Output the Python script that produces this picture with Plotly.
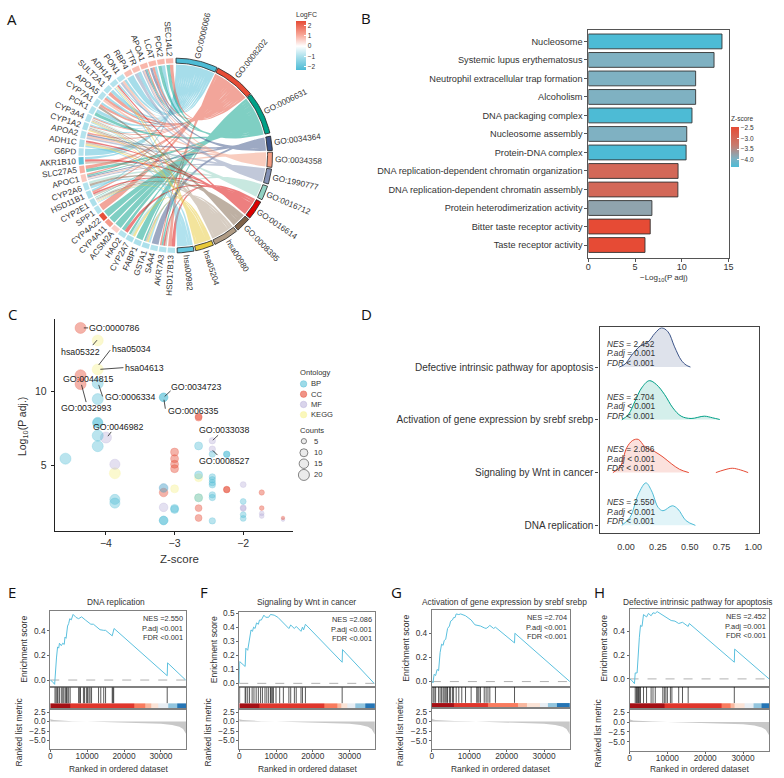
import numpy as np
import plotly.graph_objects as go

W, H = 784, 778
FONT = "Liberation Sans"
INK = "#333333"

# ---------- Panel A data ----------
genes = ["SEC14L2","PCK2","LCAT","APOA1","TTR","RBP4","PON1","ADH1A","SULT2A1","APOA5","CYP7A1","PCK1",
         "CYP3A4","CYP1A2","APOA2","ADH1C","G6PD","AKR1B10","SLC27A5","APOC1","CYP2A6","HSD11B1","CYP2E1",
         "SPP1","CYP4A22","CYP4A11","ACSM2A","HAO2","CYP2A7","FABP1","GSTA1","SAA4","AKR7A3","HSD17B13"]
gene_logfc = [0.9,0.9,0.9,0.9,0.8,0.8,-0.9,-0.9,-0.9,-0.9,-0.9,-0.9,-0.9,-1.0,-0.9,-1.0,-0.9,-2.0,1.0,0.7,
              -0.9,-1.0,-1.0,-0.9,2.4,1.3,0.6,-0.9,-1.0,-1.0,-1.0,-0.9,-0.9,-0.9]
terms = ["GO:0006066","GO:0008202","GO:0006631","GO:0034364","GO:0034358","GO:1990777","GO:0016712",
         "GO:0016614","GO:0008395","hsa00980","hsa05204","hsa00982"]
term_colors = ["#4DBBD5","#E64B35","#00A087","#3C5488","#F39B7F","#8491B4","#91D1C2","#DC0000","#7E6148",
               "#B09C85","#E8C93A","#63C6DE"]
term_genes = [
 ["PCK2","LCAT","TTR","RBP4","PON1","ADH1A","SULT2A1","APOA5","CYP7A1","PCK1","CYP3A4","CYP1A2","G6PD","AKR1B10","HSD11B1"],
 ["SEC14L2","LCAT","APOA1","SULT2A1","APOA5","CYP7A1","CYP3A4","CYP1A2","APOA2","SLC27A5","APOC1","HSD11B1","SPP1","AKR7A3","HSD17B13"],
 ["SEC14L2","PCK2","APOA1","PCK1","SLC27A5","APOC1","CYP2E1","CYP4A22","CYP4A11","ACSM2A","HAO2","CYP2A7","FABP1","GSTA1","AKR7A3"],
 ["LCAT","APOA1","APOA2","APOC1","SAA4"],
 ["PON1","APOA1","APOA5","APOA2","APOC1"],
 ["TTR","PON1","APOA1","APOA2","APOC1"],
 ["CYP3A4","CYP1A2","CYP2A6","CYP2E1","CYP2A7"],
 ["ADH1A","ADH1C","AKR1B10","HSD11B1","HAO2","AKR7A3","HSD17B13"],
 ["CYP7A1","CYP3A4","CYP1A2","CYP2A6","CYP2E1"],
 ["ADH1A","ADH1C","CYP3A4","CYP1A2","AKR1B10","HSD11B1","CYP2E1","GSTA1","AKR7A3"],
 ["ADH1A","ADH1C","CYP1A2","CYP3A4","CYP2E1","GSTA1","CYP2A7"],
 ["ADH1A","ADH1C","CYP3A4","CYP2E1","GSTA1","CYP2A6"],
]

# ---------- Panel B data ----------
b_terms = ["Nucleosome","Systemic lupus erythematosus","Neutrophil extracellular trap formation","Alcoholism",
           "DNA packaging complex","Nucleosome assembly","Protein-DNA complex",
           "DNA replication-dependent chromatin organization","DNA replication-dependent chromatin assembly",
           "Protein heterodimerization activity","Bitter taste receptor activity","Taste receptor activity"]
b_values = [14.3,13.45,11.48,11.48,11.09,10.53,10.46,9.6,9.58,6.8,6.62,6.06]
b_z = [-4.34,-3.95,-3.95,-3.95,-4.34,-3.95,-4.34,-3.0,-3.0,-3.8,-2.48,-2.48]

# ---------- Panel C data ----------
bp_x = [-4.12,-4.12,-3.16,-3.16,-4.12,-4.12,-4.12,-4.12,-4.59,-3.87,-3.87,-2.65,-2.45,-2.24,-2.24,-2.65,-2.45,-2.45,-2.45,-2.45,
        -3.16,-2.45,-2.45,-2.65,-2,-3,-3,-3.16,-3.16,-2.45,-2,-2]
bp_y = [10.55,9.48,9.6,9.6,7.9,7.85,7.0,6.28,5.43,2.66,2.41,6.3,5.74,5.74,5.72,4.32,4.19,4.0,3.8,3.65,
        3.44,2.97,2.79,2.77,2.52,2.05,1.98,1.24,1.22,1.2,1.62,1.37]
bp_n = [20,20,12,12,17,17,20,20,20,17,17,10,7,7,7,10,7,7,7,7,12,7,7,10,6,10,10,12,12,7,6,6]
cc_x = [-4.37,-4.37,-4.37,-3,-3,-3,-3,-2.65,-2.65,-2.24,-2.24,-1.73,-3.16,-2.65,-2.65,-1.73,-1.42]
cc_y = [14.32,11.1,10.5,5.88,5.43,5.05,4.75,8.3,8.22,3.34,3.32,3.13,3.13,2.07,1.4,2.07,1.4]
cc_n = [20,20,20,10,10,10,10,8,8,7,7,5,12,8,8,4,2]
mf_x = [-4,-3.87,-2.45,-2.45,-2,-3.16,-3.16,-2,-2,-1.73,-1.73,-1.42]
mf_y = [6.87,5.05,6.65,6.08,3.67,3.44,2.12,2.1,2.04,1.71,1.53,1.28]
mf_n = [20,17,7,7,6,12,12,6,6,4,4,2]
kegg_x = [-4.12,-4.12,-3.87,-2.65,-3,-2.65]
kegg_y = [13.47,11.5,4.44,4.14,3.38,2.77]
kegg_n = [20,20,20,10,10,10]
count_levels = [5,10,15,20]
c_groups = ["BP","CC","MF","KEGG"]
c_colors = ["77,187,213","230,75,53","180,170,215","247,243,150"]
c_alpha = [0.55,0.6,0.5,0.65]
c_labels = ["GO:0000786","hsa05322","hsa05034","hsa04613","GO:0044815","GO:0006334","GO:0032993",
            "GO:0034723","GO:0006335","GO:0046982","GO:0033038","GO:0008527"]

# ---------- Panel D data ----------
d_names = ["DNA replication","Signaling by Wnt in cancer","Activation of gene expression by srebf srebp",
           "Defective intrinsic pathway for apoptosis"]
d_colors = ["77,187,213","230,75,53","0,160,135","60,84,136"]
d_stats = [("2.550","<"),("2.086","<"),("2.704","<"),("2.452","=")]
d_x = [[-.034,.031,.096,.156,.2,.252,.29,.363,.407,.472,.545],
       [-.104,-.047,.005,.052,.096,.148,.226,.29,.355,.42,.493],
       [-.034,.018,.07,.122,.182,.239,.303,.368,.433,.511,.615,.68,.737],
       [-.054,-.008,.044,.109,.174,.225,.278,.33,.381,.433,.472,.506]]
d_h = [[0,.151,.591,.805,.654,.34,.277,.371,.31,.088,0],
       [0,.107,.472,.61,.629,.49,.396,.296,.17,.063,0],
       [0,.1,.352,.604,.742,.667,.478,.226,.069,.025,.069,.038,.006],
       [0,.057,.226,.396,.478,.635,.742,.667,.383,.132,.038,0]]
wnt2_x = [.706,.77,.835,.9,.96]
wnt2_h = [0,.05,.082,.05,0]

# ---------- Panels E-H data ----------
gsea_titles = ["DNA replication","Signaling by Wnt in cancer","Activation of gene expression by srebf srebp",
               "Defective intrinsic pathway for apoptosis"]
gsea_title_x = [114,306.7,506.7,702]
gsea_stats = [("2.550","<"),("2.086","<"),("2.704","<"),("2.452","=")]
es_rank = [
 [0,500,1200,1400,1700,2000,2300,2500,3000,3400,3800,4000,4300,4700,5000,5300,5700,6200,7000,7700,8500,9500,11000,11700,13000,13500,14500,15000,16800,17300,31700,31800,36700],
 [0,100,1600,1800,2300,2800,3200,3600,3900,4300,4700,5200,5500,6000,6700,7200,8000,8500,9500,10500,12000,13500,14000,15000,15500,16800,17200,17500,18000,28000,28100,36700],
 [0,300,600,1000,1400,1800,2200,2600,3000,3300,3700,4200,4700,5000,5500,5800,6200,6500,7200,7700,9000,10500,11500,13000,14000,14500,15000,15500,16500,17000,22100,22200,36900],
 [0,500,1300,1500,2000,2200,2600,2900,3300,3700,4500,5000,5700,6200,6800,7300,8500,9500,11000,12000,13000,14000,15500,15800,27700,27800,36900]]
es_score = [
 [0,-.01,-.035,.1,.18,.27,.26,.30,.28,.30,.29,.35,.34,.44,.46,.50,.49,.535,.51,.50,.515,.49,.455,.455,.42,.41,.405,.405,.36,.42,.035,.14,0],
 [0,.155,.12,.25,.235,.33,.38,.37,.40,.39,.43,.42,.45,.45,.485,.47,.47,.49,.485,.47,.43,.39,.415,.39,.405,.37,.40,.38,.42,.15,.24,0],
 [0,-.01,.06,.05,.10,.09,.24,.31,.30,.34,.35,.44,.46,.50,.51,.53,.53,.56,.555,.56,.545,.51,.47,.46,.445,.44,.45,.465,.44,.45,.32,.40,0],
 [0,-.01,-.04,.05,.05,.19,.35,.45,.44,.54,.52,.55,.53,.555,.55,.565,.54,.52,.49,.485,.465,.475,.44,.465,.14,.25,0]]
hit_ranks = [
 [1300,1600,1900,2100,2500,3000,3400,3700,4100,4400,4600,5000,5400,7700,8000,8200,9000,9300,9800,10100,10500,10800,11200,13100,13700,14500,15000,16800,17000,17200,31700],
 [100,1600,1800,2300,2800,3500,4000,4600,5200,5800,6300,7000,7500,8000,8500,8700,9000,9300,10000,11000,12000,13500,14000,15000,15500,16800,17200,18000,28000],
 [300,600,1000,1800,2200,2600,3000,3300,3700,4000,4200,4700,5000,5500,5800,6500,7200,8000,9000,10500,12000,12300,12600,13000,14000,14500,15000,15500,17000,22100],
 [1500,1800,2000,2200,2400,2600,2900,3700,4500,5700,6200,6800,8800,9200,9600,10000,10800,11200,13000,14000,15500,27700]]
strip_edges = [
 [0,5500,22800,25700,27300,29200,32100,34300,36900],
 [0,5500,23000,26700,27700,29300,31700,34300,36900],
 [0,6000,15000,22900,25300,29000,31000,33500,36900],
 [0,9200,24200,26800,27800,30500,32700,35000,36900]]
strip_values = [1,.85,.7,.6,.5,.4,.25,.05]
metric_rank = [0,300,1000,3000,6000,10000,15000,20000,25000,30000,33000,35000,36000,36500,36900]
metric_value = [.75,.55,.38,.2,.1,.02,-.1,-.2,-.35,-.6,-.9,-1.4,-2.0,-2.7,-3.4]
strip_scale = [[0,'#0B5AA5'],[.1,'#3F8FC4'],[.25,'#92C5DE'],[.4,'#E8EEF4'],[.5,'#FBE3D6'],[.6,'#F9B79E'],
               [.7,'#F97B5E'],[.85,'#E0362C'],[1,'#A50F15']]

# ---------- helpers ----------
fig = go.Figure()
axis_n = [0]
def add_axes(x0, x1, y0, y1, xopts, yopts):
    axis_n[0] += 1
    n = axis_n[0]
    s = "" if n == 1 else str(n)
    fig.update_layout(**{
        f"xaxis{s}": dict(domain=[x0/W, x1/W], anchor=f"y{s}", **xopts),
        f"yaxis{s}": dict(domain=[1-y1/H, 1-y0/H], anchor=f"x{s}", **yopts)})
    return f"x{s}", f"y{s}"

ann = []
def text(x, y, t, size=8, anchor="center", angle=0, color=INK, family=FONT):
    ann.append(dict(x=x/W, y=1-y/H, xref="paper", yref="paper", text=t, showarrow=False, xanchor=anchor,
                    yanchor="middle", textangle=angle, font=dict(size=size, color=color, family=family),
                    borderpad=0, borderwidth=0))

def tw(s, size):
    w = dict(G=.778,O=.778,M=.833,I=.278,T=.611,F=.611,L=.556)
    w.update({c:.722 for c in "CDHNRU"})
    total = 0
    for c in s:
        if c in w: total += w[c]
        elif c.isupper(): total += .667
        elif c == ":": total += .278
        elif c in "il": total += .222
        elif c in "s": total += .5
        else: total += .556
    return total*size

def off(**k):
    d = dict(visible=False, fixedrange=True)
    d.update(k)
    return d

def lerp_scale(v, vmin, vmax, stops):
    t = (v-vmin)/(vmax-vmin)
    ps = [s[0] for s in stops]
    cs = [tuple(int(s[1][i:i+2],16) for i in (1,3,5)) for s in stops]
    return "rgb(%d,%d,%d)" % tuple(np.interp(t, ps, [c[k] for c in cs]) for k in range(3))

# ---------- Panel A ----------
CX, CY, BOX = 174.3, 152.5, 130
ax, ay = add_axes(CX-BOX, CX+BOX, CY-BOX, CY+BOX, off(range=[-BOX,BOX]), off(range=[-BOX,BOX]))
R_IN, R0, R1 = 91.5, 93.0, 98.0
def pol(theta, r):
    t = np.radians(theta)
    return r*np.sin(t), r*np.cos(t)
def arc(a, b, r, n=12):
    th = np.linspace(a, b, n)
    return pol(th, r)
def bez(ta, tb, r, n=30):
    xa, ya = pol(ta, r); xb, yb = pol(tb, r)
    u = np.linspace(0, 1, n)
    return (1-u)**2*xa + u**2*xb, (1-u)**2*ya + u**2*yb

term_spans = [(0.3,25.4),(26,50.6),(51.2,76.6),(78.5,87),(88,97),(98,107),(108.4,117),(118.5,130),(131,140),
              (141,156),(157,168),(169,179)]
GENE_STEP = (356.4-182.5)/(len(genes)-1)
GENE_W = 4.4
gene_theta = [356.4 - i*GENE_STEP for i in range(len(genes))]
links_per_gene = {g: [ti for ti, lst in enumerate(term_genes) if g in lst] for g in genes}

for ti, lst in enumerate(term_genes):
    a, b = term_spans[ti]
    ordered = sorted(lst, key=genes.index, reverse=True)
    step = (b-a)/len(ordered)
    xs, ys = [], []
    for k, g in enumerate(ordered):
        gt = gene_theta[genes.index(g)]
        L = links_per_gene[g]
        gs = GENE_W/len(L)
        j = L.index(ti)
        g1 = gt + GENE_W/2 - j*gs
        g2 = g1 - gs
        t1, t2 = a+k*step, a+(k+1)*step
        x1, y1 = arc(t1, t2, R_IN, 4)
        x2, y2 = bez(t2, g2, R_IN)
        x3, y3 = arc(g2, g1, R_IN, 3)
        x4, y4 = bez(g1, t1, R_IN)
        xs += list(np.r_[x1, x2, x3, x4]) + [None]
        ys += list(np.r_[y1, y2, y3, y4]) + [None]
    rgb = tuple(int(term_colors[ti][i:i+2],16) for i in (1,3,5))
    fig.add_trace(go.Scatter(x=xs, y=ys, xaxis=ax, yaxis=ay, mode="lines", fill="toself",
                             fillcolor="rgba(%d,%d,%d,0.5)" % rgb, line=dict(width=0)))

for ti, t in enumerate(terms):
    a, b = term_spans[ti]
    x1, y1 = arc(a, b, R1, 20); x2, y2 = arc(b, a, R0, 20)
    fig.add_trace(go.Scatter(x=np.r_[x1,x2,x1[0]], y=np.r_[y1,y2,y1[0]], xaxis=ax, yaxis=ay, mode="lines", fill="toself",
                             fillcolor=term_colors[ti], line=dict(color="#222222", width=0.8)))
    mid = (a+b)/2
    r = 100.5 + tw(t, 8.2)/2
    px, py = pol(mid, r)
    text(CX+px, CY-py, t, 8.2, angle=mid-90)

LOGFC_MIN, LOGFC_MAX = -2.33, 2.46
z0 = -LOGFC_MIN/(LOGFC_MAX-LOGFC_MIN)
logfc_scale = [[0,"#4DBBD5"],[z0*0.55,"#A8DFEB"],[z0,"#FFFFFF"],[z0+(1-z0)*0.45,"#F8A798"],[1,"#E64B35"]]
for g, th, v in zip(genes, gene_theta, gene_logfc):
    x1, y1 = arc(th-GENE_W/2, th+GENE_W/2, R1, 5); x2, y2 = arc(th+GENE_W/2, th-GENE_W/2, R0, 5)
    c = lerp_scale(v, LOGFC_MIN, LOGFC_MAX, logfc_scale)
    fig.add_trace(go.Scatter(x=np.r_[x1,x2], y=np.r_[y1,y2], xaxis=ax, yaxis=ay, mode="lines", fill="toself",
                             fillcolor=c, line=dict(color=c, width=0.1)))
    r = 100.5 + tw(g, 8.2)/2
    px, py = pol(th, r)
    text(CX+px, CY-py, g, 8.2, angle=th-270)
gx, gy = pol(np.array(gene_theta), R0)
fig.add_trace(go.Scatter(x=gx, y=gy, xaxis=ax, yaxis=ay, mode="markers",
    marker=dict(size=1, opacity=0, color=gene_logfc, colorscale=logfc_scale, cmin=LOGFC_MIN, cmax=LOGFC_MAX,
        colorbar=dict(x=296/W, xanchor="left", y=1-17/H, yanchor="top", len=49, lenmode="pixels", thickness=10,
                      xpad=0, ypad=0, outlinewidth=0, ticks="inside", tickcolor="white", ticklen=2,
                      tickvals=[-2,-1,0,1,2], tickfont=dict(size=6.5, color=INK, family=FONT)))))
text(296, 10.7, "LogFC", 7, anchor="left")

# ---------- Panel B ----------
frame = dict(showline=True, mirror=True, linecolor="#555555", linewidth=1, showgrid=False, zeroline=False)
bx, by = add_axes(591.4, 733, 26, 256,
    dict(range=[0,15], tickvals=[0,5,10,15], ticks="outside", ticklen=3, tickcolor="#555", ticklabelstandoff=-3,
         tickfont=dict(size=9, color=INK, family=FONT), **frame),
    dict(range=[11.72,-0.626], ticks="outside", ticklen=3, tickcolor="#555", tickfont=dict(size=9.2, color=INK, family=FONT), **frame))
z_scale = [[0,"#4DBBD5"],[.21,"#7FB1C2"],[.55,"#C87A6D"],[1,"#E64B35"]]
fig.add_trace(go.Bar(x=b_values, y=b_terms, orientation="h", xaxis=bx, yaxis=by, width=0.8,
    marker=dict(color=b_z, colorscale=z_scale, cmin=-4.34, cmax=-2.48, line=dict(color="#333333", width=0.9),
        colorbar=dict(x=736/W, xanchor="left", y=1-124/H, yanchor="top", len=40, lenmode="pixels", thickness=8,
                      xpad=0, ypad=0, outlinewidth=0, ticks="inside", tickcolor="white", ticklen=2,
                      tickvals=[-2.5,-3,-3.5,-4], ticktext=["−2.5","−3.0","−3.5","−4.0"],
                      tickfont=dict(size=6.5, color=INK, family=FONT)))))
text(668, 276, "−Log<sub>10</sub>(P adj)", 8)
text(736, 115.7, "Z-score", 6.5, anchor="left")

# ---------- Panel C ----------
cx, cy = add_axes(52.3, 293, 317, 530,
    dict(range=[-4.746,-1.274], tickvals=[-4,-3,-2], showline=True, linecolor="#222", linewidth=1, ticks="outside", ticklen=3,
         showgrid=False, zeroline=False, tickcolor="#222", tickfont=dict(size=10.5, color=INK, family=FONT)),
    dict(range=[0.54,14.93], tickvals=[5,10], showline=True, linecolor="#222", linewidth=1, ticks="outside", ticklen=3,
         showgrid=False, zeroline=False, tickcolor="#222", ticklabelstandoff=2, tickfont=dict(size=10.5, color=INK, family=FONT)))
def size_px(n):
    return np.interp(n, [2,5,10,15,20], [3.5,5.3,8,9.5,11])
for gx_, gy_, gn, rgb, al in zip([kegg_x,mf_x,cc_x,bp_x],[kegg_y,mf_y,cc_y,bp_y],[kegg_n,mf_n,cc_n,bp_n],
                                 [c_colors[3],c_colors[2],c_colors[1],c_colors[0]],[c_alpha[3],c_alpha[2],c_alpha[1],c_alpha[0]]):
    fig.add_trace(go.Scatter(x=gx_, y=gy_, xaxis=cx, yaxis=cy, mode="markers",
        marker=dict(size=size_px(np.array(gn)), color=f"rgba({rgb},{al})", line=dict(color=f"rgba({rgb},0.8)", width=0.5))))
text(178, 558.5, "Z-score", 11.5)
text(20, 425, "Log<sub>10</sub>(P adj.)", 10.5, angle=-90)

# ---------- Panel D ----------
dx, dy = add_axes(602.7, 764, 325.3, 532.7,
    dict(range=[-0.209,1.047], tickvals=[0,.25,.5,.75,1], ticktext=["0.00","0.25","0.50","0.75","1.00"], ticks="",
         ticklabelstandoff=5, tickfont=dict(size=9, color=INK, family=FONT), showline=True, mirror=True, linecolor="#444", linewidth=1.3, showgrid=False, zeroline=False),
    dict(range=[0.85,4.755], tickvals=[1,2,3,4], ticktext=d_names, ticks="outside", ticklen=3, tickcolor="#444",
         tickfont=dict(size=10, color=INK, family=FONT), showline=True, mirror=True, linecolor="#444", linewidth=1.3, showgrid=False, zeroline=False))
for i in range(4):
    ys_ = [i+1+v for v in d_h[i]]
    fig.add_trace(go.Scatter(x=d_x[i], y=ys_, xaxis=dx, yaxis=dy, mode="lines", fill="toself", fillcolor=f"rgba({d_colors[i]},0.17)",
                             line=dict(width=0, shape="spline"), hoverinfo="skip"))
    fig.add_trace(go.Scatter(x=d_x[i], y=ys_, xaxis=dx, yaxis=dy, mode="lines", line=dict(color=f"rgb({d_colors[i]})", width=1, shape="spline")))
fig.add_trace(go.Scatter(x=wnt2_x, y=[2+v for v in wnt2_h], xaxis=dx, yaxis=dy, mode="lines", line=dict(color=f"rgb({d_colors[1]})", width=1, shape="spline")))
for i, base in enumerate([524.7,471.7,418.7,365.3]):
    nes, op = d_stats[i]
    text(610, base-23.4, f"<i>NES</i> = {nes}", 8.3, anchor="left")
    text(610, base-13.7, f"<i>P.adj</i> {op} 0.001", 8.3, anchor="left")
    text(610, base-4.2, "<i>FDR</i> < 0.001", 8.3, anchor="left")

# ---------- Panels E-H ----------
gsea_geom = [ # x0,x1,y_top,y_mid,y_strip,y_bot,y-range,ticks
 (47.7,185.3,611,687.7,709.3,750,[-.059,.562],[0,.2,.4],["0.0","0.2","0.4"]),
 (238.7,375.7,612,687.7,709.3,750,[-.028,.507],[0,.1,.2,.3,.4,.5],["0.0","0.1","0.2","0.3","0.4","0.5"]),
 (433.3,572.7,610,687.3,709,750.3,[-.044,.592],[0,.2,.4],["0.0","0.2","0.4"]),
 (633,774,609,687.3,709.3,751.5,[-.067,.586],[0,.2,.4],["0.0","0.2","0.4"])]
gframe = dict(showline=True, mirror=True, linecolor="#808080", linewidth=1, showgrid=False, zeroline=False)
XR = [0,36900]
for i, (x0,x1,yt,ym,ys_,yb,yr,yv,yl) in enumerate(gsea_geom):
    tf = dict(size=8.3, color=INK, family=FONT)
    a1, a2 = add_axes(x0,x1,yt,ym, dict(range=XR, showticklabels=False, ticks="", **gframe),
                      dict(range=yr, tickvals=yv, ticktext=yl, ticks="outside", ticklen=2, tickcolor="#666", tickfont=tf, **gframe))
    fig.add_trace(go.Scatter(x=XR, y=[0,0], xaxis=a1, yaxis=a2, mode="lines", line=dict(color="#A8A8A8", width=0.9, dash="dash")))
    fig.add_trace(go.Scatter(x=es_rank[i], y=es_score[i], xaxis=a1, yaxis=a2, mode="lines", line=dict(color="#5BC0DE", width=1)))
    b1, b2 = add_axes(x0,x1,ym,ys_, dict(range=XR, showticklabels=False, ticks="", **gframe),
                      dict(range=[0,1], showticklabels=False, ticks="", **gframe))
    rx, ry = [], []
    for r in hit_ranks[i]:
        rx += [r,r,None]; ry += [.26,1,None]
    fig.add_trace(go.Scatter(x=rx, y=ry, xaxis=b1, yaxis=b2, mode="lines", line=dict(color="rgba(0,0,0,0.65)", width=1)))
    fig.add_trace(go.Heatmap(x=strip_edges[i], y=[0,.25], z=[strip_values], xaxis=b1, yaxis=b2, colorscale=strip_scale,
                             zmin=0, zmax=1, showscale=False, hoverinfo="skip"))
    c1, c2 = add_axes(x0,x1,ys_,yb, dict(range=XR, tickvals=[0,10000,20000,30000], tickformat="d", ticks="outside", ticklen=2, tickcolor="#666",
                                         ticklabelstandoff=-3, tickfont=tf, **gframe),
                      dict(range=[-7.3,3.38], tickvals=[2.5,0,-2.5,-5], ticktext=["2.5","0.0","−2.5","−5.0"], ticks="outside", ticklen=2,
                           tickcolor="#666", tickfont=tf, **gframe))
    fig.add_trace(go.Scatter(x=metric_rank, y=metric_value, xaxis=c1, yaxis=c2, mode="lines", fill="tozeroy",
                             fillcolor="#C8C8C8", line=dict(width=0)))
    xc = (x0+x1)/2
    text(gsea_title_x[i], 601.5, gsea_titles[i], 8.4)
    text(xc, 769.5, "Ranked in ordered dataset", 8.4)
    text(x0-26, (yt+ym)/2, "Enrichment score", 8.6, angle=-90)
    text(x0-32, (ys_+yb)/2+3, "Ranked list metric", 8.6, angle=-90)
    nes, op = gsea_stats[i]
    text(x1-3, yt+7.5, f"NES ={nes}", 7.4, anchor="right")
    text(x1-3, yt+17.5, f"P.adj {op}0.001", 7.4, anchor="right")
    text(x1-3, yt+27, "FDR <0.001", 7.4, anchor="right")

# ---------- Overlay (page pixels): C leaders/labels/legend ----------
ox, oy = add_axes(0, W, 0, H, off(range=[0,W]), off(range=[H,0]))
def Z(zx, zy):
    return zx/3, 300+zy/3
leaders = [((245,78),(258,78)),((272,130),(285,115)),((325,145),(290,190)),((365,198),(295,203)),
           ((302,285),(290,250)),((252,302),(238,250)),((508,268),(490,285)),((492,322),(488,295)),
           ((328,392),(318,405)),((652,402),(636,417)),((650,462),(636,448))]
lx, ly = [], []
for p, q in leaders:
    a = Z(*p); b = Z(*q)
    lx += [a[0], b[0], None]; ly += [a[1], b[1], None]
fig.add_trace(go.Scatter(x=lx, y=ly, xaxis=ox, yaxis=oy, mode="lines", line=dict(color="#222", width=0.8)))
label_pos = [(337,78),(235,150),(389,142),(430,199),(258,231),(384,287),(253,320),(585,256),(575,328),(348,378),(671,386),(671,479)]
for t, p in zip(c_labels, label_pos):
    a = Z(*p)
    text(a[0], a[1], t, 8.8, color="#222")
text(*Z(899,213), "Ontology", 7.6, anchor="left")
for i, (g, zy) in enumerate(zip(c_groups, [247,278,309,340])):
    a = Z(911, zy)
    fig.add_trace(go.Scatter(x=[a[0]], y=[a[1]], xaxis=ox, yaxis=oy, mode="markers",
        marker=dict(size=6.5, color=f"rgba({c_colors[i]},{c_alpha[i]})", line=dict(color=f"rgba({c_colors[i]},0.8)", width=0.5))))
    b = Z(933, zy)
    text(b[0], b[1], g, 7.6, anchor="left")
text(*Z(899,388), "Counts", 7.6, anchor="left")
for n, zy in zip(count_levels, [420,455,488,522]):
    a = Z(912, zy)
    fig.add_trace(go.Scatter(x=[a[0]], y=[a[1]], xaxis=ox, yaxis=oy, mode="markers",
        marker=dict(size=float(size_px(n)), color="#EBEBEB", line=dict(color="#555", width=0.7))))
    b = Z(942, zy)
    text(b[0], b[1], str(n), 7.6, anchor="left")

for l, x, y in [("A",9.5,15),("B",367,14),("C",10,312),("D",367,312),("E",9.5,592),("F",203,592),("G",398,592),("H",603,592)]:
    text(x, y, l, 15, color="#111", family="Open Sans")

fig.update_traces(showlegend=False)
fig.update_layout(width=W, height=H, margin=dict(l=0,r=0,t=0,b=0), paper_bgcolor="white", plot_bgcolor="rgba(0,0,0,0)",
                  annotations=ann, showlegend=False, hovermode=False, font=dict(family=FONT))
fig.write_html("out.html", config={"displayModeBar": False},
               post_script="document.body.style.margin='0';document.body.style.overflow='hidden';")
